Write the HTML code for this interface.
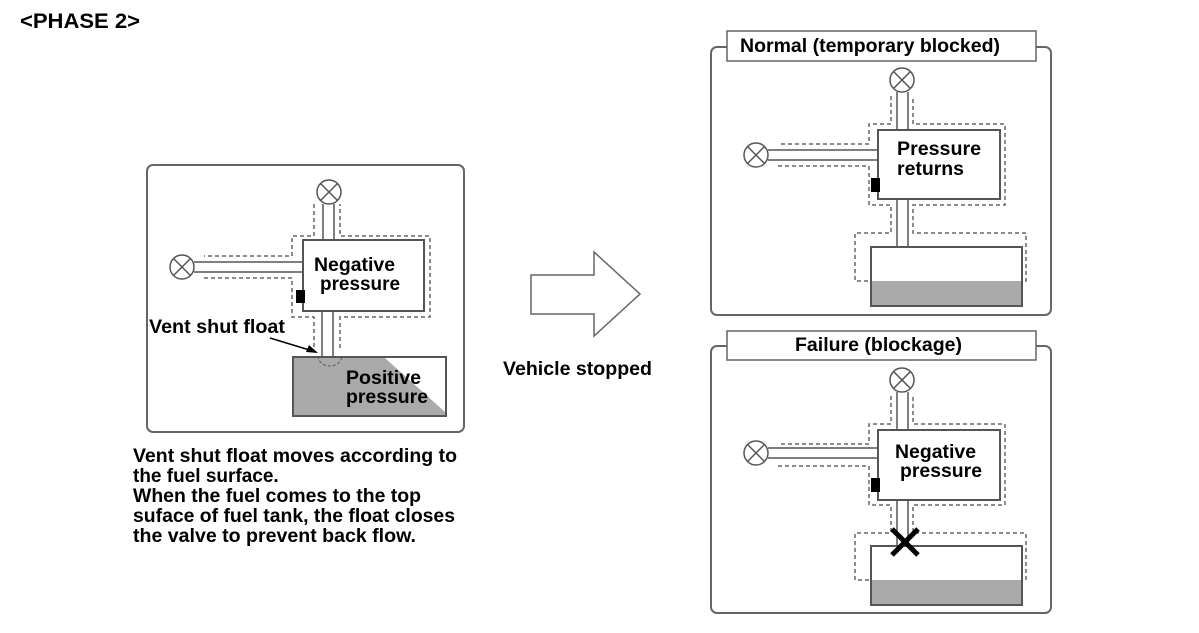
<!DOCTYPE html>
<html><head><meta charset="utf-8"><style>
body{margin:0;background:#fff;width:1199px;height:628px;overflow:hidden}
svg text{font-family:"Liberation Sans",Arial,sans-serif;font-weight:bold;fill:#000}
</style></head><body>
<svg width="1199" height="628" viewBox="0 0 1199 628" xmlns="http://www.w3.org/2000/svg">
<defs>
<g id="valve"><circle r="12" fill="#fff" stroke="#555" stroke-width="1.5"/><path d="M-8.5,-8.5L8.5,8.5M8.5,-8.5L-8.5,8.5" stroke="#555" stroke-width="1.5"/></g>
</defs>
<text x="20" y="28" font-size="21" textLength="120" lengthAdjust="spacingAndGlyphs">&lt;PHASE 2&gt;</text>

<!-- Left panel -->
<rect x="147" y="165" width="317" height="267" rx="6" fill="#fff" stroke="#666" stroke-width="2"/>
<g fill="none" stroke="#666" stroke-width="1.5" stroke-dasharray="4,3">
<path d="M314,204 V236 H292 V256 H204 M204,278 H292 V317 H314 V348 M340,348 V317 H430 V236 H340 V204"/>
</g>
<path d="M194,262 H303 M194,272 H303 M323,204 V240 M334,204 V240 M322,311 V357 M333,311 V357" stroke="#555" stroke-width="1.5" fill="none"/>
<rect x="303" y="240" width="121" height="71" fill="#fff" stroke="#555" stroke-width="2"/>
<rect x="296" y="290" width="9" height="13" fill="#000"/>
<use href="#valve" x="329" y="192"/>
<use href="#valve" x="182" y="267"/>
<rect x="293" y="357" width="153" height="59" fill="#fff" stroke="#555" stroke-width="2"/>
<polygon points="294,358 385,358 445,412 445,415 294,415" fill="#aaa"/>
<path d="M318,356 a12,10 0 0 0 24,0" fill="none" stroke="#555" stroke-dasharray="3,2"/>
<text x="314" y="271" font-size="19" textLength="81" lengthAdjust="spacingAndGlyphs">Negative</text>
<text x="320" y="290" font-size="19" textLength="80" lengthAdjust="spacingAndGlyphs">pressure</text>
<text x="346" y="384" font-size="19" textLength="75" lengthAdjust="spacingAndGlyphs">Positive</text>
<text x="346" y="403" font-size="19" textLength="82" lengthAdjust="spacingAndGlyphs">pressure</text>
<text x="149" y="333" font-size="19" textLength="136" lengthAdjust="spacingAndGlyphs">Vent shut float</text>
<path d="M270,338 L316,352" stroke="#000" stroke-width="1.5"/>
<polygon points="318,353 306,352 309,345" fill="#000"/>
<g font-size="19">
<text x="133" y="462" textLength="324" lengthAdjust="spacingAndGlyphs">Vent shut float moves according to</text>
<text x="133" y="482">the fuel surface.</text>
<text x="133" y="502" textLength="288" lengthAdjust="spacingAndGlyphs">When the fuel comes to the top</text>
<text x="133" y="522" textLength="322" lengthAdjust="spacingAndGlyphs">suface of fuel tank, the float closes</text>
<text x="133" y="542" textLength="283" lengthAdjust="spacingAndGlyphs">the valve to prevent back flow.</text>
</g>

<!-- Arrow -->
<polygon points="531,275 594,275 594,252 640,294 594,336 594,314 531,314" fill="#fff" stroke="#666" stroke-width="1.5"/>
<text x="503" y="375" font-size="19" textLength="149" lengthAdjust="spacingAndGlyphs">Vehicle stopped</text>

<!-- Normal panel -->
<rect x="711" y="47" width="340" height="268" rx="6" fill="#fff" stroke="#666" stroke-width="2"/>
<rect x="727" y="31" width="309" height="30" fill="#fff" stroke="#666" stroke-width="1.5"/>
<text x="740" y="52" font-size="19" textLength="260" lengthAdjust="spacingAndGlyphs">Normal (temporary blocked)</text>
<g fill="none" stroke="#666" stroke-width="1.5" stroke-dasharray="4,3">
<path d="M891,96 V124 H869 V144 H778 M778,166 H869 V205 H891 V233 H855 V281 H1026 V233 H913 V205 H1005 V124 H913 V96"/>
</g>
<path d="M768,150 H878 M768,160 H878 M897,92 V130 M908,92 V130 M897,199 V247 M908,199 V247" stroke="#555" stroke-width="1.5" fill="none"/>
<rect x="878" y="130" width="122" height="69" fill="#fff" stroke="#555" stroke-width="2"/>
<rect x="871" y="178" width="9" height="14" fill="#000"/>
<use href="#valve" x="902" y="80"/>
<use href="#valve" x="756" y="155"/>
<rect x="871" y="247" width="151" height="59" fill="#fff" stroke="#555" stroke-width="2"/>
<rect x="872" y="281" width="149" height="24" fill="#aaa"/>
<text x="897" y="155" font-size="19" textLength="84" lengthAdjust="spacingAndGlyphs">Pressure</text>
<text x="897" y="175" font-size="19" textLength="67" lengthAdjust="spacingAndGlyphs">returns</text>

<!-- Failure panel -->
<rect x="711" y="346" width="340" height="267" rx="6" fill="#fff" stroke="#666" stroke-width="2"/>
<rect x="727" y="331" width="309" height="29" fill="#fff" stroke="#666" stroke-width="1.5"/>
<text x="795" y="351" font-size="19" textLength="167" lengthAdjust="spacingAndGlyphs">Failure (blockage)</text>
<g fill="none" stroke="#666" stroke-width="1.5" stroke-dasharray="4,3">
<path d="M891,396 V424 H869 V444 H778 M778,466 H869 V505 H891 V533 H855 V580 H1026 V533 H913 V505 H1005 V424 H913 V396"/>
</g>
<path d="M768,448 H878 M768,458 H878 M897,392 V430 M908,392 V430 M897,500 V546 M908,500 V546" stroke="#555" stroke-width="1.5" fill="none"/>
<rect x="878" y="430" width="122" height="70" fill="#fff" stroke="#555" stroke-width="2"/>
<rect x="871" y="478" width="9" height="14" fill="#000"/>
<use href="#valve" x="902" y="380"/>
<use href="#valve" x="756" y="453"/>
<rect x="871" y="546" width="151" height="59" fill="#fff" stroke="#555" stroke-width="2"/>
<rect x="872" y="580" width="149" height="24" fill="#aaa"/>
<path d="M892,529 L918,555 M918,529 L892,555" stroke="#000" stroke-width="5"/>
<text x="895" y="458" font-size="19" textLength="81" lengthAdjust="spacingAndGlyphs">Negative</text>
<text x="900" y="477" font-size="19" textLength="82" lengthAdjust="spacingAndGlyphs">pressure</text>
</svg>
</body></html>
